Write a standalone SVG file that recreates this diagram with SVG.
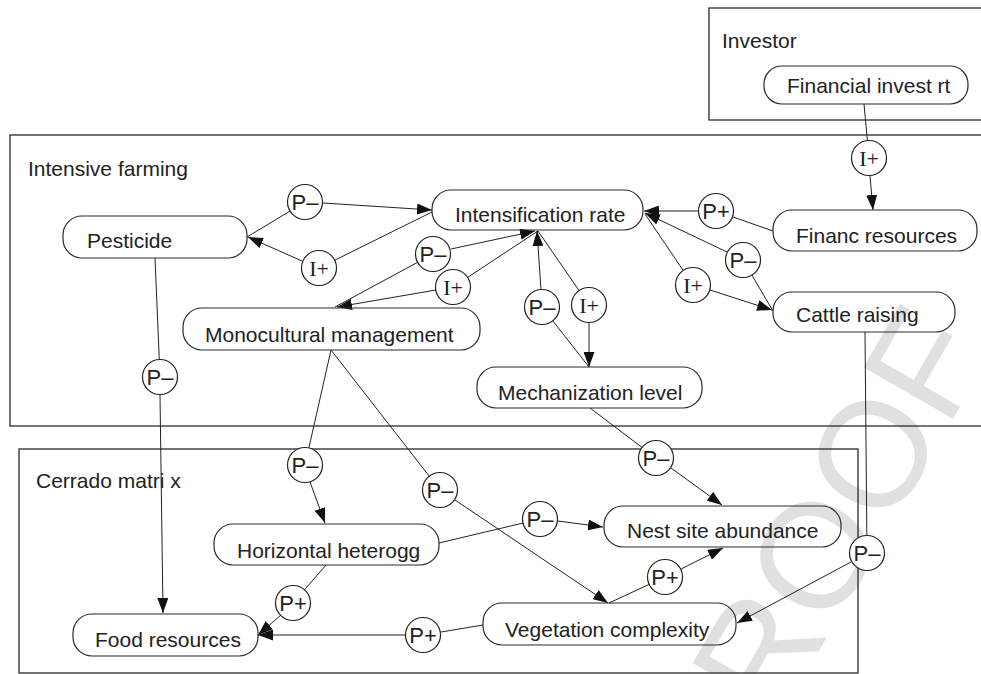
<svg xmlns="http://www.w3.org/2000/svg" width="981" height="674" viewBox="0 0 981 674">
<style>
.frame{fill:none;stroke:#2a2a2a;stroke-width:1.3}
.node rect{fill:none;stroke:#2a2a2a;stroke-width:1.2}
.lbl{font-family:"Liberation Sans",Arial,sans-serif;font-size:21px;fill:#222}
.c circle{fill:#fff;stroke:#222;stroke-width:1.2}
.ct{font-family:"Liberation Sans",Arial,sans-serif;font-size:22px;fill:#222;text-anchor:middle}
.ci{font-family:"Liberation Serif","Times New Roman",serif;font-size:22px;fill:#222;text-anchor:middle}
.ln{fill:none;stroke:#222;stroke-width:1}
.ar{fill:none;stroke:#222;stroke-width:1;marker-end:url(#ah)}
.wm{font-family:"Liberation Sans",Arial,sans-serif;font-size:150px;fill:#e0e0e0}
</style>
<defs>
<marker id="ah" markerUnits="userSpaceOnUse" markerWidth="15" markerHeight="11" refX="15" refY="5.5" orient="auto">
<path d="M0,0 L15,5.5 L0,11 z" fill="#111"/>
</marker>
</defs>
<rect width="981" height="674" fill="#fff"/>
<text class="wm" transform="translate(726,812) rotate(-60)">PROOF</text>

<g id="frames">
<rect class="frame" x="709" y="8" width="290" height="112"/>
<rect class="frame" x="10" y="135" width="990" height="291"/>
<rect class="frame" x="19" y="449" width="839" height="224"/>
<text class="lbl" x="722" y="48">Investor</text>
<text class="lbl" x="28" y="176">Intensive farming</text>
<text class="lbl" x="36" y="488">Cerrado matri x</text>
</g>

<g id="connectors">
<line class="ln" x1="864" y1="104" x2="869" y2="158"/>
<line class="ar" x1="870" y1="176" x2="873" y2="210"/>
<line class="ar" x1="698" y1="211" x2="644" y2="211"/>
<line class="ln" x1="716" y1="211" x2="773" y2="231"/>
<line class="ar" x1="727" y1="252" x2="645" y2="213"/>
<line class="ln" x1="743" y1="260" x2="773" y2="311"/>
<line class="ln" x1="693" y1="285" x2="645" y2="214"/>
<line class="ar" x1="710" y1="290" x2="772" y2="310"/>
<line class="ln" x1="247" y1="237" x2="305" y2="202"/>
<line class="ar" x1="323" y1="203" x2="432" y2="210"/>
<line class="ln" x1="319" y1="268" x2="432" y2="212"/>
<line class="ar" x1="302" y1="261" x2="248" y2="237"/>
<line class="ln" x1="335" y1="307" x2="433" y2="254"/>
<line class="ar" x1="451" y1="249" x2="535" y2="231"/>
<line class="ln" x1="453" y1="287" x2="538" y2="231"/>
<line class="ar" x1="436" y1="290" x2="337" y2="307"/>
<line class="ln" x1="589" y1="367" x2="542" y2="307"/>
<line class="ar" x1="541" y1="290" x2="537" y2="231"/>
<line class="ln" x1="538" y1="231" x2="589" y2="305"/>
<line class="ar" x1="589" y1="323" x2="589" y2="367"/>
<line class="ln" x1="155" y1="258" x2="160" y2="377"/>
<line class="ar" x1="160" y1="395" x2="163" y2="613"/>
<line class="ln" x1="331" y1="350" x2="305" y2="465"/>
<line class="ar" x1="310" y1="482" x2="325" y2="523"/>
<line class="ln" x1="331" y1="350" x2="440" y2="490"/>
<line class="ar" x1="455" y1="500" x2="608" y2="603"/>
<line class="ln" x1="590" y1="408" x2="656" y2="458"/>
<line class="ar" x1="671" y1="468" x2="722" y2="505"/>
<line class="ln" x1="439" y1="543" x2="540" y2="519"/>
<line class="ar" x1="558" y1="521" x2="603" y2="527"/>
<line class="ln" x1="609" y1="603" x2="665" y2="577"/>
<line class="ar" x1="681" y1="569" x2="723" y2="548"/>
<line class="ln" x1="326" y1="565" x2="293" y2="603"/>
<line class="ar" x1="281" y1="615" x2="258" y2="635"/>
<line class="ln" x1="483" y1="625" x2="423" y2="635"/>
<line class="ar" x1="405" y1="635" x2="258" y2="635"/>
<line class="ln" x1="865" y1="332" x2="867" y2="553"/>
<line class="ar" x1="851" y1="562" x2="737" y2="623"/>
</g>

<g id="n-financial" class="node"><rect x="764" y="66" width="204" height="38" rx="18"/><text class="lbl" x="787" y="93">Financial invest rt</text></g>
<g id="n-financ" class="node"><rect x="773" y="210" width="204" height="41" rx="19"/><text class="lbl" x="796" y="243">Financ resources</text></g>
<g id="n-intens" class="node"><rect x="432" y="190" width="211" height="40" rx="19"/><text class="lbl" x="455" y="222">Intensification rate</text></g>
<g id="n-pest" class="node"><rect x="63" y="216" width="184" height="42" rx="19"/><text class="lbl" x="87" y="248">Pesticide</text></g>
<g id="n-cattle" class="node"><rect x="773" y="292" width="182" height="40" rx="19"/><text class="lbl" x="796" y="322">Cattle raising</text></g>
<g id="n-mono" class="node"><rect x="183" y="308" width="297" height="42" rx="19"/><text class="lbl" x="205" y="342">Monocultural management</text></g>
<g id="n-mech" class="node"><rect x="477" y="367" width="225" height="41" rx="19"/><text class="lbl" x="498" y="400">Mechanization level</text></g>
<g id="n-horiz" class="node"><rect x="214" y="524" width="225" height="41" rx="19"/><text class="lbl" x="237" y="558">Horizontal heterogg</text></g>
<g id="n-nest" class="node"><rect x="604" y="506" width="237" height="41" rx="19"/><text class="lbl" x="627" y="538">Nest site abundance</text></g>
<g id="n-food" class="node"><rect x="73" y="614" width="185" height="42" rx="19"/><text class="lbl" x="95" y="647">Food resources</text></g>
<g id="n-veg" class="node"><rect x="483" y="603" width="253" height="42" rx="19"/><text class="lbl" x="505" y="637">Vegetation complexity</text></g>

<g id="signs" class="c">
<g id="s1"><circle cx="869" cy="158" r="17.5"/><text class="ci" x="869" y="166">I+</text></g>
<g id="s2"><circle cx="716" cy="211" r="17.5"/><text class="ct" x="716" y="219">P+</text></g>
<g id="s3"><circle cx="743" cy="260" r="17.5"/><text class="ct" x="743" y="268">P–</text></g>
<g id="s4"><circle cx="693" cy="285" r="17.5"/><text class="ci" x="693" y="293">I+</text></g>
<g id="s5"><circle cx="305" cy="202" r="17.5"/><text class="ct" x="305" y="210">P–</text></g>
<g id="s6"><circle cx="319" cy="268" r="17.5"/><text class="ci" x="319" y="276">I+</text></g>
<g id="s7"><circle cx="433" cy="254" r="17.5"/><text class="ct" x="433" y="262">P–</text></g>
<g id="s8"><circle cx="453" cy="287" r="17.5"/><text class="ci" x="453" y="295">I+</text></g>
<g id="s9"><circle cx="542" cy="307" r="17.5"/><text class="ct" x="542" y="315">P–</text></g>
<g id="s10"><circle cx="589" cy="305" r="17.5"/><text class="ci" x="589" y="313">I+</text></g>
<g id="s11"><circle cx="160" cy="377" r="17.5"/><text class="ct" x="160" y="385">P–</text></g>
<g id="s12"><circle cx="305" cy="465" r="17.5"/><text class="ct" x="305" y="473">P–</text></g>
<g id="s13"><circle cx="440" cy="490" r="17.5"/><text class="ct" x="440" y="498">P–</text></g>
<g id="s14"><circle cx="656" cy="458" r="17.5"/><text class="ct" x="656" y="466">P–</text></g>
<g id="s15"><circle cx="540" cy="519" r="17.5"/><text class="ct" x="540" y="527">P–</text></g>
<g id="s16"><circle cx="665" cy="577" r="17.5"/><text class="ct" x="665" y="585">P+</text></g>
<g id="s17"><circle cx="293" cy="603" r="17.5"/><text class="ct" x="293" y="611">P+</text></g>
<g id="s18"><circle cx="423" cy="635" r="17.5"/><text class="ct" x="423" y="643">P+</text></g>
<g id="s19"><circle cx="867" cy="553" r="17.5"/><text class="ct" x="867" y="561">P–</text></g>
</g>
</svg>
